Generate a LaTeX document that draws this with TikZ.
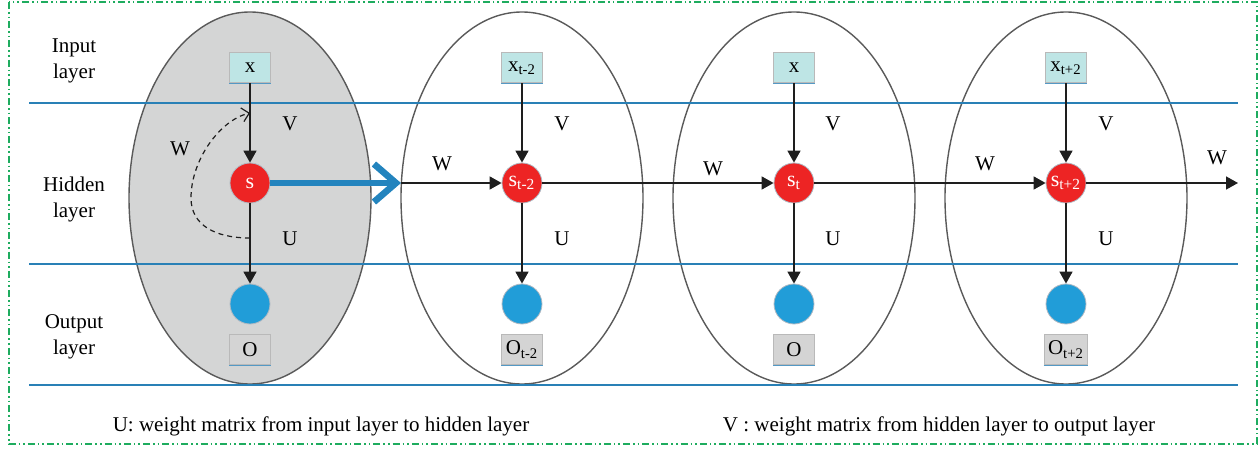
\documentclass[tikz,border=0pt]{standalone}
\usepackage{fontspec}
\setmainfont{Liberation Serif}
\usetikzlibrary{shapes.geometric,arrows.meta}
\definecolor{lineblue}{RGB}{41,128,182}
\definecolor{thickblue}{RGB}{35,132,190}
\definecolor{cellgray}{RGB}{212,213,213}
\definecolor{ellgray}{RGB}{90,90,90}
\definecolor{incyan}{RGB}{190,229,229}
\definecolor{outgray}{RGB}{212,212,212}
\definecolor{boxedge}{RGB}{185,185,185}
\definecolor{hidred}{RGB}{237,36,36}
\definecolor{outblue}{RGB}{33,157,216}
\definecolor{circedge}{RGB}{175,185,195}
\definecolor{arrblack}{RGB}{30,30,30}
\definecolor{framegreen}{RGB}{30,172,95}
\begin{document}
\begin{tikzpicture}[x=0.5pt,y=-0.5pt,
  font=\fontsize{10.5}{13}\selectfont,
  cell/.style={ellipse, draw=ellgray, line width=0.7pt, minimum width=121pt, minimum height=186pt, inner sep=0pt},
  inbox/.style={draw=boxedge, line width=0.5pt, fill=incyan, minimum width=20.5pt, minimum height=15pt, inner sep=2pt},
  outbox/.style={inbox, fill=outgray},
  boxbottom/.style={draw=lineblue!80, line width=0.4pt},
  hid/.style={circle, fill=hidred, draw=circedge, line width=0.4pt, minimum size=20pt, inner sep=0pt, text=white, font=\fontsize{11}{13}\selectfont},
  outc/.style={circle, fill=outblue, draw=circedge, line width=0.4pt, minimum size=20pt, inner sep=0pt},
  arr/.style={draw=arrblack, line width=0.8pt, -{Triangle[length=6pt,width=6.5pt]}},
  layerline/.style={draw=lineblue, line width=1pt},
  lbl/.style={inner sep=0pt},
  layerlbl/.style={inner sep=0pt, align=center},
  loopback/.style={draw=arrblack, line width=0.6pt, dash pattern=on 2.5pt off 2pt, -{Straight Barb[length=3.5pt,width=7pt]}},
  bigarrow/.style={draw=thickblue, line width=3.3pt, -{Straight Barb[length=11pt,width=19pt]}},
  frame/.style={draw=framegreen, line width=0.8pt, dash pattern=on 3.5pt off 1.5pt on 0.8pt off 1.5pt on 0.8pt off 1.5pt}
]
\useasboundingbox (0,0) rectangle (1260,449);
\draw[frame] (9,2) rectangle (1257,444);

% cells
\node[cell, fill=cellgray] (e1) at (250,198) {};
\node[cell] (e2) at (522,198) {};
\node[cell] (e3) at (794,198) {};
\node[cell] (e4) at (1066,198) {};

% layer lines
\draw[layerline] (29,103) -- (1238,103);
\draw[layerline] (29,264) -- (1238,264);
\draw[layerline] (29,385) -- (1238,385);

% layer labels
\node[layerlbl] (linput) at (74,61) {Input\\layer};
\node[layerlbl] (lhidden) at (74,199) {Hidden\\layer};
\node[layerlbl] (loutput) at (74,337) {Output\\layer};

% input boxes
\node[inbox] (x1) at (250,68) {x};
\node[inbox] (x2) at (522,68) {x\textsubscript{t-2}};
\node[inbox] (x3) at (794,68) {x};
\node[inbox] (x4) at (1066,68) {x\textsubscript{t+2}};

% hidden states
\node[hid] (s1) at (250,183) {s};
\node[hid] (s2) at (522,183) {s\textsubscript{t-2}};
\node[hid] (s3) at (794,183) {s\textsubscript{t}};
\node[hid] (s4) at (1066,183) {s\textsubscript{t+2}};

% output circles
\node[outc] (o1) at (250,304) {};
\node[outc] (o2) at (522,304) {};
\node[outc] (o3) at (794,304) {};
\node[outc] (o4) at (1066,304) {};

% output boxes
\node[outbox] (b1) at (250,349.5) {O};
\node[outbox] (b2) at (522,349.5) {O\textsubscript{t-2}};
\node[outbox] (b3) at (794,349.5) {O};
\node[outbox] (b4) at (1066,349.5) {O\textsubscript{t+2}};

\foreach \n in {x1,x2,x3,x4,b1,b2,b3,b4}
  \draw[boxbottom] (\n.south west) -- (\n.south east);

% vertical connectors
\foreach \i in {1,2,3,4} {
  \draw[arr] (x\i.south) -- (s\i.north);
  \draw[arr] (s\i.south) -- (o\i.north);
}

% horizontal recurrence
\coordinate (h0) at (401,183);
\coordinate (hend) at (1238,183);
\draw[bigarrow] (s1.east) -- (h0);
\draw[arr] (h0) -- (s2.west);
\draw[arr] (s2.east) -- (s3.west);
\draw[arr] (s3.east) -- (s4.west);
\draw[arr] (s4.east) -- (hend);

% loop in folded cell
\coordinate (d0) at (250,238);
\coordinate (d1) at (250,113);
\draw[loopback] (d0) .. controls (215,238) and (191,225) .. (191,198) .. controls (191,160) and (220,120) .. (d1);

% weight labels
\node[lbl] (w1) at (180,149) {W};
\node[lbl] (v1) at (290,124) {V};
\node[lbl] (u1) at (290,239) {U};
\node[lbl] (w2) at (442,164) {W};
\node[lbl] (v2) at (562,124) {V};
\node[lbl] (u2) at (562,239) {U};
\node[lbl] (w3) at (713,169) {W};
\node[lbl] (v3) at (833,124) {V};
\node[lbl] (u3) at (833,239) {U};
\node[lbl] (w4) at (985,164) {W};
\node[lbl] (v4) at (1106,124) {V};
\node[lbl] (u4) at (1106,239) {U};
\node[lbl] (w5) at (1217,158) {W};

% legend
\node[lbl, anchor=base] (legu) at (321,431) {U: weight matrix from input layer to hidden layer};
\node[lbl, anchor=base] (legv) at (939,431) {V : weight matrix from hidden layer to output layer};
\end{tikzpicture}
\end{document}
